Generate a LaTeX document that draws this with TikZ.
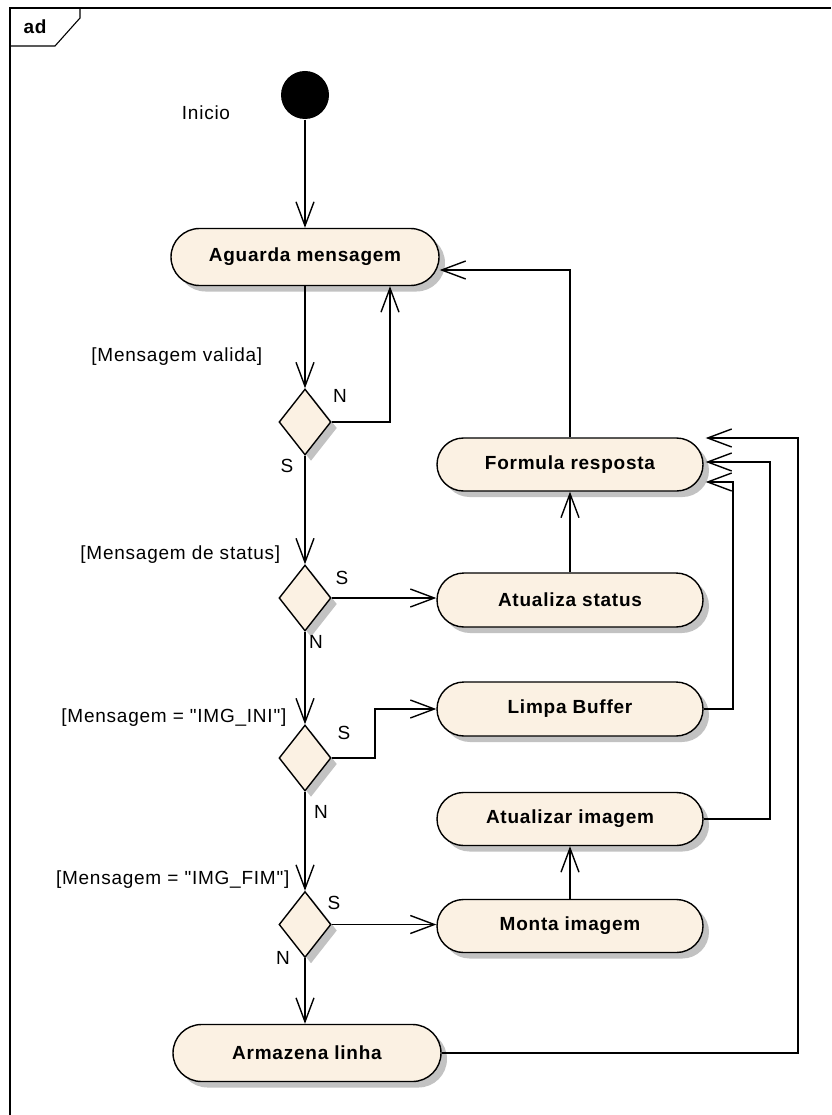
\documentclass[tikz,border=0pt]{standalone}
\usepackage{fontspec}
\setmainfont{Liberation Sans}
\newfontfamily\lblfont[LetterSpace=4]{Liberation Sans}
\newfontfamily\actfont[LetterSpace=4]{Liberation Sans Bold}
\usetikzlibrary{arrows.meta,shapes.misc,shapes.geometric,shadows,calc}
\definecolor{actfill}{RGB}{251,241,227}
\definecolor{shadowgray}{RGB}{194,194,194}

\begin{document}
\begin{tikzpicture}[x=1pt,y=-1pt,
  line width=1.4pt,
  boxshadow/.style={drop shadow={shadow xshift=6pt, shadow yshift=-6pt, fill=shadowgray, opacity=1}},
  action/.style={rounded rectangle, draw, fill=actfill, minimum width=268pt,
    minimum height=#1, inner sep=0pt, boxshadow,
    font=\actfont\fontsize{19}{22}\selectfont},
  action/.default=54pt,
  decision/.style={diamond, draw, fill=actfill, minimum width=52pt,
    minimum height=66pt, inner sep=0pt, boxshadow},
  flow/.style={-{Straight Barb[length=24pt,width=18pt]}},
  lbl/.style={font=\lblfont\fontsize{19}{22}\selectfont, inner sep=0pt},
]
\useasboundingbox (0,0) rectangle (831,1115);

% diagram frame with its name tab
\draw[line width=1.1pt] (10,1115) -- (10,8) -- (831,8);
\draw[line width=1.1pt] (10,46) -- (55,46) -- (80,18) -- (80,8);
\node[font=\actfont\fontsize{19}{22}\selectfont, inner sep=0pt] (tab) at (35,27) {ad};

% initial node
\node[circle, fill=black, minimum size=48pt, inner sep=0pt] (start) at (305,95) {};
\node[lbl] (linicio) at (206,113) {Inicio};

% main column
\node[action=57pt] (ag) at (305,257) {Aguarda mensagem};
\node[decision] (d1) at (305,422) {};
\node[decision] (d2) at (305,598) {};
\node[decision] (d3) at (305,758) {};
\node[decision] (d4) at (305,924.5) {};
\node[action=57pt] (ar) at (307,1053) {Armazena linha};

% right column
\node[action=53pt, minimum width=266pt] (fr) at (570,464.5) {Formula resposta};
\node[action, minimum width=266pt] (as) at (570,600) {Atualiza status};
\node[action, minimum width=266pt] (lb) at (570,709) {Limpa Buffer};
\node[action=53pt, minimum width=266pt] (ai) at (570,819) {Atualizar imagem};
\node[action=53pt, minimum width=266pt] (mi) at (570,926) {Monta imagem};

% guard and branch labels
\node[lbl, anchor=east] (g1) at (263,357) {[Mensagem valida]};
\node[lbl] (n1) at (340,396) {N};
\node[lbl] (s1) at (287,466) {S};
\node[lbl, anchor=east] (g2) at (281,555) {[Mensagem de status]};
\node[lbl] (s2) at (342,578) {S};
\node[lbl] (n2) at (316,642) {N};
\node[lbl, anchor=east] (g3) at (287,718) {[Mensagem = "IMG\_INI"]};
\node[lbl] (s3) at (344,733) {S};
\node[lbl] (n3) at (321,812) {N};
\node[lbl, anchor=east] (g4) at (290,880) {[Mensagem = "IMG\_FIM"]};
\node[lbl] (s4) at (334,903) {S};
\node[lbl] (n4) at (283,958) {N};

% bend columns of the return lines
\coordinate (xa) at (390,0);
\coordinate (xb) at (375,0);
\coordinate (xc) at (733,0);
\coordinate (xd) at (770,0);
\coordinate (xe) at (798,0);

% control flow
\draw[flow] (start.south) -- (start.south |- ag.north);
\draw[flow] (ag.south -| d1.north) -- (d1.north);
\draw[flow] (d1.east) -| (xa |- ag.south);
\draw[flow] (d1.south) -- (d2.north);
\draw[flow] (d2.east) -- (d2.east -| as.west);
\draw[flow] (d2.south) -- (d3.north);
\draw[flow] (d3.east) -- (xb |- d3.east) |- (lb.west);
\draw[flow] (d3.south) -- (d4.north);
\draw[flow] (d4.east) -- (d4.east -| mi.west);
\draw[flow] (d4.south) -- (d4.south |- ar.north);

\draw[flow] (as.north) -- (fr.south);
\draw[flow] (mi.north) -- (ai.south);
\draw[flow] (fr.north) |- ($(ag.east)+(0,13)$);
\draw[flow] (lb.east) -- (xc |- lb.east) |- ($(fr.east)+(2,17.5)$);
\draw[flow] (ai.east) -- (xd |- ai.east) |- ($(fr.east)+(2,-2.5)$);
\draw[flow] (ar.east) -- (xe |- ar.east) |- ($(fr.east)+(2,-26.5)$);
\end{tikzpicture}
\end{document}
